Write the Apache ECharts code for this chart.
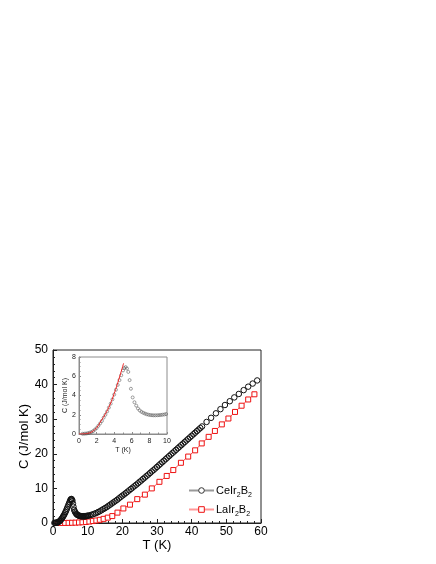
<!DOCTYPE html>
<html>
<head>
<meta charset="utf-8">
<script src="https://cdn.jsdelivr.net/npm/echarts@6/dist/echarts.min.js"></script>
<style>
  html, body { margin: 0; padding: 0; background: #fff; }
  #main { width: 436px; height: 564px; }
</style>
</head>
<body>
<div id="main"></div>
<script>
// CeIr2B2, low temperature part (shown in both the main plot and the inset)
const ceLowT = [0.4, 0.6, 0.8, 1.0, 1.2, 1.4, 1.6, 1.8, 2.0, 2.2, 2.4, 2.6, 2.8, 3.0, 3.2, 3.4, 3.6, 3.8, 4.0, 4.2,
  4.4, 4.6, 4.8, 5.0, 5.15, 5.3, 5.45, 5.6, 5.75, 5.9, 6.1, 6.3, 6.5, 6.7, 6.9, 7.1, 7.3, 7.5, 7.7, 7.9,
  8.1, 8.3, 8.5, 8.7, 8.9, 9.1, 9.3, 9.5, 9.7, 9.9]
const ceLowC = [0.02, 0.03, 0.05, 0.08, 0.13, 0.2, 0.3, 0.45, 0.62, 0.85, 1.1, 1.35, 1.7, 2.0, 2.35, 2.75, 3.15, 3.6, 4.1, 4.6,
  5.1, 5.6, 6.1, 6.6, 6.85, 6.95, 6.8, 6.45, 5.6, 4.7, 3.8, 3.3, 2.95, 2.65, 2.45, 2.3, 2.2, 2.12, 2.05, 2.0,
  1.97, 1.95, 1.94, 1.94, 1.95, 1.96, 1.98, 2.0, 2.03, 2.07]

// CeIr2B2, above 10 K
const ceHighT = [10.1, 10.5, 11, 11.5, 12, 12.5, 13, 13.5, 14, 14.5, 15, 15.5, 16, 16.5, 17, 17.5, 18, 18.5, 19, 19.5,
  20, 20.5, 21, 21.5, 22, 22.5, 23, 23.5, 24, 24.5, 25, 25.5, 26, 26.5, 27, 27.5, 28, 28.5, 29, 29.5,
  30, 30.5, 31, 31.5, 32, 32.5, 33, 33.5, 34, 34.5, 35, 35.5, 36, 36.5, 37, 37.5, 38, 38.5, 39, 39.5,
  40, 40.5, 41, 41.5, 42, 42.5, 43, 44.3, 45.6, 47, 48.3, 49.6, 51, 52.3, 53.6, 55, 56.3, 57.6, 58.9]
const ceHighC = [2.1, 2.2, 2.35, 2.5, 2.7, 2.9, 3.15, 3.4, 3.7, 4.0, 4.3, 4.6, 4.95, 5.3, 5.65, 6.0, 6.35, 6.7, 7.1, 7.5,
  7.9, 8.25, 8.65, 9.05, 9.45, 9.85, 10.25, 10.65, 11.05, 11.45, 11.9, 12.3, 12.75, 13.15, 13.6, 14.0, 14.45, 14.9, 15.3, 15.75,
  16.2, 16.65, 17.1, 17.55, 18.0, 18.45, 18.9, 19.35, 19.8, 20.25, 20.7, 21.15, 21.6, 22.05, 22.5, 22.95, 23.4, 23.85, 24.3, 24.75,
  25.2, 25.65, 26.1, 26.55, 27.0, 27.45, 27.9, 29.2, 30.4, 31.7, 32.9, 34.1, 35.2, 36.3, 37.3, 38.4, 39.4, 40.3, 41.2]

// LaIr2B2
const laT = [1.5, 2.5, 3.5, 4.5, 5.5, 6.5, 7.5, 8.5, 9.5, 10.5, 11.5, 12.5, 13.5, 14.6, 15.8, 17.1, 18.6, 20.3, 22.2, 24.3,
  26.5, 28.5, 30.7, 32.8, 34.7, 36.9, 39, 41, 42.9, 44.9, 46.7, 48.7, 50.6, 52.5, 54.4, 56.3, 58.1]
const laC = [0.0, 0.01, 0.02, 0.04, 0.07, 0.1, 0.15, 0.22, 0.3, 0.42, 0.56, 0.73, 0.93, 1.2, 1.55, 2.0, 3.0, 4.2, 5.3, 6.9,
  8.2, 10.0, 11.9, 13.6, 15.3, 17.4, 19.2, 21.0, 23.0, 24.9, 26.6, 28.5, 30.2, 32.1, 33.9, 35.7, 37.2]

// red fit line in the inset
const fitT = [0, 0.5, 1, 1.5, 2, 2.5, 3, 3.5, 4, 4.5, 5.07]
const fitC = [0, 0.01, 0.07, 0.25, 0.65, 1.35, 2.1, 3.0, 4.2, 5.6, 7.35]

const mainXTicks = ['0', '10', '20', '30', '40', '50', '60']

function zip(xs, ys) {
  let out = []
  for (let i in xs) {
    out.push([xs[i], ys[i]])
  }
  return out
}

const ceAll = zip(ceLowT.concat(ceHighT), ceLowC.concat(ceHighC))
const FONT = 'Liberation Sans'

let chart = echarts.init(document.getElementById('main'), null, { renderer: 'canvas' })

let option = {
  animation: false,
  backgroundColor: '#fff',
  textStyle: { fontFamily: FONT },
  grid: [
    { left: 53, top: 350, width: 208, height: 173, show: true, borderColor: '#222', borderWidth: 1 },
    { left: 79, top: 357, width: 88, height: 77, show: true, borderColor: '#8c8c8c', borderWidth: 1 }
  ],
  xAxis: [
    {
      gridIndex: 0, type: 'value', min: 0, max: 60, interval: 10,
      name: 'T (K)', nameLocation: 'middle', nameGap: 13,
      nameTextStyle: { fontSize: 13, color: '#000', fontFamily: FONT },
      axisLine: { lineStyle: { color: '#222' } },
      axisTick: { inside: true, length: 4, lineStyle: { color: '#222' } },
      minorTick: { show: true, splitNumber: 5, length: 2, lineStyle: { color: '#222' } },
      axisLabel: { fontSize: 12, color: '#000', margin: 3,
        formatter: v => mainXTicks[Math.round(v / 10)] },
      splitLine: { show: false }
    },
    {
      gridIndex: 1, type: 'value', min: 0, max: 10, interval: 2,
      name: 'T (K)', nameLocation: 'middle', nameGap: 13,
      nameTextStyle: { fontSize: 7, color: '#222', fontFamily: FONT },
      axisLine: { lineStyle: { color: '#8c8c8c' } },
      axisTick: { inside: true, length: 2, lineStyle: { color: '#8c8c8c' } },
      minorTick: { show: true, splitNumber: 2, length: 1.5, lineStyle: { color: '#8c8c8c' } },
      axisLabel: { fontSize: 7, color: '#222', margin: 4 },
      splitLine: { show: false }
    }
  ],
  yAxis: [
    {
      gridIndex: 0, type: 'value', min: 0, max: 50, interval: 10,
      name: 'C (J/mol K)', nameLocation: 'middle', nameGap: 21,
      nameTextStyle: { fontSize: 13, color: '#000', fontFamily: FONT },
      axisLine: { lineStyle: { color: '#222' } },
      axisTick: { inside: true, length: 4, lineStyle: { color: '#222' } },
      minorTick: { show: true, splitNumber: 5, length: 2, lineStyle: { color: '#222' } },
      axisLabel: { fontSize: 12, color: '#000', margin: 5 },
      splitLine: { show: false }
    },
    {
      gridIndex: 1, type: 'value', min: 0, max: 8, interval: 2,
      name: 'C (J/mol K)', nameLocation: 'middle', nameGap: 7,
      nameTextStyle: { fontSize: 7, color: '#222', fontFamily: FONT },
      axisLine: { lineStyle: { color: '#8c8c8c' } },
      axisTick: { inside: true, length: 2, lineStyle: { color: '#8c8c8c' } },
      minorTick: { show: true, splitNumber: 4, length: 1.5, lineStyle: { color: '#8c8c8c' } },
      axisLabel: { fontSize: 7, color: '#222', margin: 3 },
      splitLine: { show: false }
    }
  ],
  legend: {
    orient: 'vertical', left: 188, top: 485, padding: 0, itemWidth: 25, itemHeight: 7, itemGap: 5,
    textStyle: {
      fontSize: 11, color: '#000', fontFamily: FONT, padding: [0, 0, 0, -3],
      rich: {
        a: { fontSize: 11, fontFamily: FONT, color: '#000', verticalAlign: 'bottom' },
        s: { fontSize: 7, fontFamily: FONT, color: '#000', verticalAlign: 'bottom', padding: [0, 0, -3, 0] }
      }
    },
    formatter: function (name) {
      if (name == 'CeIr2B2') return '{a|CeIr}{s|2}{a|B}{s|2}'
      return '{a|LaIr}{s|2}{a|B}{s|2}'
    },
    data: [
      { name: 'CeIr2B2', itemStyle: { color: '#fff', borderColor: '#333', borderWidth: 1 }, lineStyle: { color: '#999', width: 2 } },
      { name: 'LaIr2B2', itemStyle: { color: '#fff', borderColor: '#ee1111', borderWidth: 1 }, lineStyle: { color: '#f99', width: 2 } }
    ]
  },
  series: [
    {
      name: 'LaIr2B2', type: 'line', xAxisIndex: 0, yAxisIndex: 0,
      data: zip(laT, laC),
      symbol: 'rect', symbolSize: 5,
      lineStyle: { color: '#ee2222', width: 0.8 },
      itemStyle: { color: '#fff', borderColor: '#ee1111', borderWidth: 1 }
    },
    {
      name: 'CeIr2B2', type: 'line', xAxisIndex: 0, yAxisIndex: 0,
      data: ceAll,
      symbol: 'circle', symbolSize: 5.5,
      lineStyle: { color: '#999', width: 0 },
      itemStyle: { color: 'rgba(255,255,255,0)', borderColor: '#111', borderWidth: 1 }
    },
    {
      name: 'fit', type: 'line', xAxisIndex: 1, yAxisIndex: 1,
      data: zip(fitT, fitC),
      showSymbol: false, smooth: true,
      lineStyle: { color: '#ee2222', width: 1 }
    },
    {
      name: 'inset', type: 'scatter', xAxisIndex: 1, yAxisIndex: 1,
      data: zip(ceLowT, ceLowC),
      symbol: 'circle', symbolSize: 3,
      itemStyle: { color: 'rgba(255,255,255,0)', borderColor: '#555', borderWidth: 0.7 }
    }
  ]
}

chart.setOption(option)
</script>
</body>
</html>
